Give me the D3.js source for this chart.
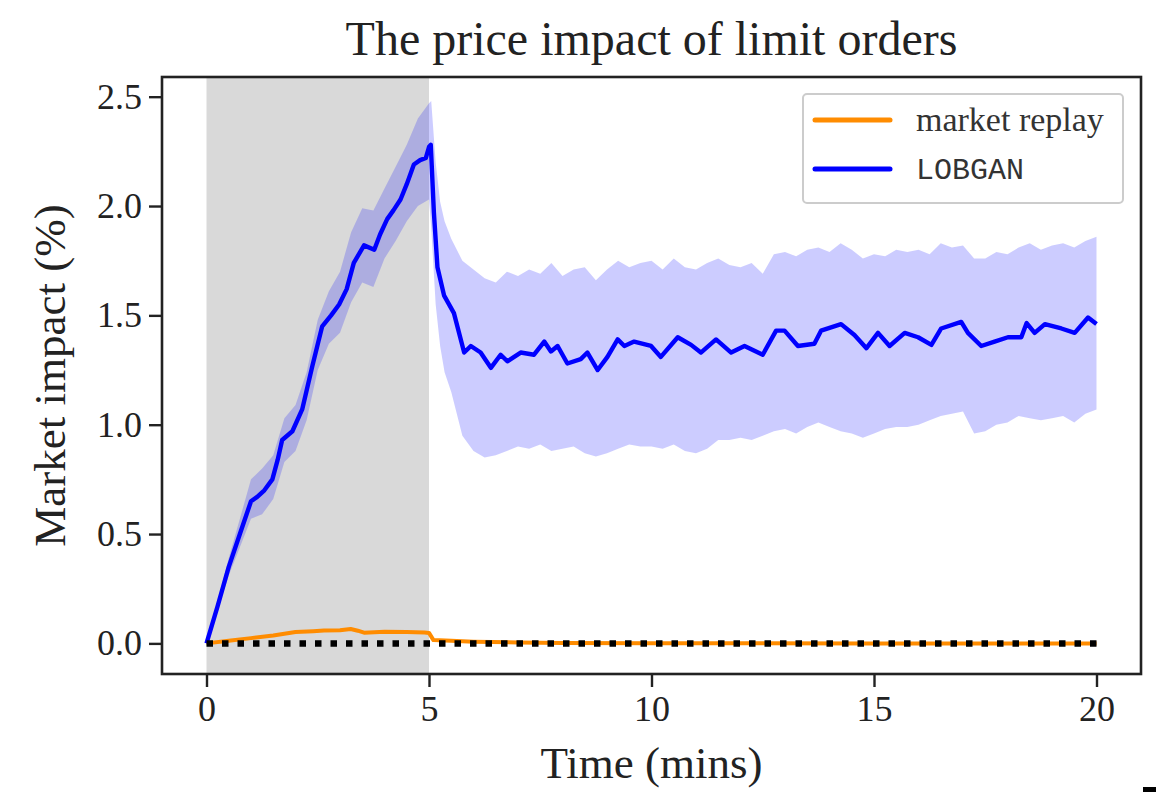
<!DOCTYPE html>
<html>
<head>
<meta charset="utf-8">
<script src="https://cdn.jsdelivr.net/npm/d3@7"></script>
<style>
  html, body { margin: 0; padding: 0; background: #fff; }
  svg { display: block; }
</style>
</head>
<body>
<svg id="chart" width="1156" height="796"></svg>
<script>
// ---- Data ----
const titleText = "The price impact of limit orders";
const xLabel = "Time (mins)";
const yLabel = "Market impact (%)";
const xTicks = [0, 5, 10, 15, 20];
const yTicks = [0.0, 0.5, 1.0, 1.5, 2.0, 2.5];
const shadeRange = [0, 5];

const lobTime = [0, 0.25, 0.5, 0.75, 1.0, 1.14, 1.3, 1.48, 1.6, 1.7, 1.93, 2.15, 2.38, 2.49, 2.6, 2.8, 2.98, 3.15, 3.31, 3.54, 3.77, 3.9, 4.06, 4.2, 4.36, 4.5, 4.66, 4.8, 4.93, 5.0, 5.04, 5.11, 5.19, 5.34, 5.56, 5.79, 5.94, 6.16, 6.39, 6.61, 6.76, 7.06, 7.36, 7.59, 7.74, 7.89, 8.11, 8.41, 8.56, 8.79, 9.01, 9.24, 9.39, 9.61, 9.99, 10.21, 10.59, 10.89, 11.11, 11.45, 11.79, 12.09, 12.5, 12.8, 12.99, 13.29, 13.66, 13.81, 14.26, 14.56, 14.83, 15.09, 15.35, 15.69, 15.99, 16.29, 16.51, 16.96, 17.11, 17.41, 17.71, 18.01, 18.31, 18.43, 18.61, 18.84, 19.21, 19.51, 19.81, 20.0];
const lobMean = [0, 0.17, 0.35, 0.50, 0.65, 0.67, 0.70, 0.75, 0.84, 0.93, 0.97, 1.07, 1.27, 1.36, 1.45, 1.50, 1.55, 1.62, 1.74, 1.82, 1.80, 1.87, 1.94, 1.98, 2.03, 2.10, 2.19, 2.21, 2.22, 2.27, 2.28, 1.97, 1.72, 1.59, 1.51, 1.33, 1.36, 1.33, 1.26, 1.32, 1.29, 1.33, 1.32, 1.38, 1.335, 1.36, 1.28, 1.30, 1.33, 1.25, 1.31, 1.39, 1.36, 1.38, 1.36, 1.31, 1.40, 1.365, 1.33, 1.39, 1.33, 1.36, 1.32, 1.43, 1.43, 1.36, 1.37, 1.43, 1.46, 1.41, 1.35, 1.42, 1.36, 1.42, 1.40, 1.365, 1.44, 1.47, 1.42, 1.36, 1.38, 1.40, 1.40, 1.465, 1.42, 1.46, 1.44, 1.42, 1.49, 1.46];

const bandTime = [0, 0.25, 0.5, 0.75, 1.0, 1.25, 1.5, 1.75, 2.0, 2.25, 2.5, 2.75, 3.0, 3.25, 3.5, 3.75, 4.0, 4.25, 4.5, 4.75, 5.0, 5.05, 5.15, 5.25, 5.35, 5.5, 5.75, 6.0, 6.25, 6.5, 6.75, 7.0, 7.25, 7.5, 7.75, 8.0, 8.25, 8.5, 8.75, 9.0, 9.25, 9.5, 9.75, 10.0, 10.25, 10.5, 10.75, 11.0, 11.25, 11.5, 11.75, 12.0, 12.25, 12.5, 12.75, 13.0, 13.25, 13.5, 13.75, 14.0, 14.25, 14.5, 14.75, 15.0, 15.25, 15.5, 15.75, 16.0, 16.25, 16.5, 16.75, 17.0, 17.25, 17.5, 17.75, 18.0, 18.25, 18.5, 18.75, 19.0, 19.25, 19.5, 19.75, 20.0];
const bandUpper = [0.0, 0.19, 0.39, 0.57, 0.75, 0.80, 0.86, 1.03, 1.09, 1.24, 1.48, 1.61, 1.70, 1.88, 1.99, 1.98, 2.08, 2.18, 2.28, 2.40, 2.47, 2.48, 2.20, 2.02, 1.93, 1.85, 1.75, 1.71, 1.67, 1.65, 1.70, 1.68, 1.71, 1.69, 1.74, 1.68, 1.71, 1.72, 1.66, 1.71, 1.75, 1.72, 1.74, 1.75, 1.71, 1.76, 1.72, 1.71, 1.74, 1.76, 1.73, 1.72, 1.74, 1.69, 1.78, 1.79, 1.77, 1.80, 1.81, 1.79, 1.83, 1.80, 1.76, 1.78, 1.77, 1.80, 1.79, 1.80, 1.78, 1.83, 1.81, 1.82, 1.76, 1.76, 1.79, 1.78, 1.81, 1.83, 1.80, 1.82, 1.83, 1.81, 1.84, 1.86];
const bandLower = [0.0, 0.15, 0.31, 0.44, 0.57, 0.59, 0.66, 0.83, 0.88, 1.02, 1.25, 1.37, 1.42, 1.56, 1.65, 1.63, 1.76, 1.84, 1.93, 2.00, 2.03, 1.90, 1.55, 1.36, 1.24, 1.15, 0.95, 0.88, 0.85, 0.86, 0.88, 0.90, 0.89, 0.91, 0.88, 0.89, 0.90, 0.87, 0.855, 0.87, 0.89, 0.91, 0.90, 0.90, 0.89, 0.91, 0.88, 0.87, 0.89, 0.93, 0.93, 0.94, 0.93, 0.95, 0.97, 0.98, 0.96, 0.99, 1.01, 0.99, 0.97, 0.96, 0.94, 0.96, 0.98, 0.99, 0.99, 1.00, 1.02, 1.04, 1.05, 1.06, 0.96, 0.97, 1.00, 1.01, 1.04, 1.03, 1.02, 1.03, 1.04, 1.01, 1.05, 1.07];

const replayTime = [0, 0.5, 1.0, 1.5, 2.0, 2.4, 2.64, 3.0, 3.24, 3.4, 3.54, 4.0, 4.5, 4.9, 5.0, 5.1, 5.5, 6.0, 7.0, 8.0, 10.0, 12.0, 15.0, 20.0];
const replayMean = [0, 0.012, 0.024, 0.036, 0.052, 0.056, 0.059, 0.060, 0.066, 0.058, 0.049, 0.053, 0.052, 0.050, 0.048, 0.015, 0.012, 0.008, 0.004, 0.002, 0.001, 0.001, 0.0, 0.0];

const zeroTime = [0, 20];
const zeroValue = [0, 0];

const legendLabels = ["market replay", "LOBGAN"];

// ---- Layout ----
const SERIF = "'Liberation Serif', 'Times New Roman', serif";
const MONO = "'Liberation Mono', 'DejaVu Sans Mono', monospace";
const svg = d3.select("#chart");
const L = 162, R = 1141, T = 77, B = 674;
const x = d3.scaleLinear().domain([-1, 21]).range([L, R]);
const y = d3.scaleLinear().domain([-0.14, 2.59]).range([B, T]);

svg.append("defs").append("clipPath").attr("id", "plotclip")
  .append("rect").attr("x", L).attr("y", T).attr("width", R - L).attr("height", B - T);
const gPlot = svg.append("g").attr("clip-path", "url(#plotclip)");

// shaded span
gPlot.append("rect")
  .attr("x", x(shadeRange[0])).attr("width", x(shadeRange[1]) - x(shadeRange[0]))
  .attr("y", T).attr("height", B - T)
  .attr("fill", "#808080").attr("fill-opacity", 0.3);

// LOBGAN band
const band = bandTime.map((t, i) => ({ t, u: bandUpper[i], l: bandLower[i] }));
gPlot.append("path").datum(band)
  .attr("d", d3.area().x(d => x(d.t)).y0(d => y(d.l)).y1(d => y(d.u)))
  .attr("fill", "#0000ff").attr("fill-opacity", 0.2).attr("stroke", "none");

// market replay line
const replay = replayTime.map((t, i) => ({ t, v: replayMean[i] }));
gPlot.append("path").datum(replay)
  .attr("d", d3.line().x(d => x(d.t)).y(d => y(d.v)))
  .attr("fill", "none").attr("stroke", "#ff8c00").attr("stroke-width", 4)
  .attr("stroke-linejoin", "round");

// LOBGAN line
const lob = lobTime.map((t, i) => ({ t, v: lobMean[i] }));
gPlot.append("path").datum(lob)
  .attr("d", d3.line().x(d => x(d.t)).y(d => y(d.v)))
  .attr("fill", "none").attr("stroke", "#0000ff").attr("stroke-width", 4.4)
  .attr("stroke-linejoin", "round");

// zero dotted line
const zero = zeroTime.map((t, i) => ({ t, v: zeroValue[i] }));
gPlot.append("path").datum(zero)
  .attr("d", d3.line().x(d => x(d.t)).y(d => y(d.v)))
  .attr("fill", "none").attr("stroke", "#000").attr("stroke-width", 6.5)
  .attr("stroke-dasharray", "6.5,9");

// axes
const xAxis = svg.append("g").attr("transform", `translate(0,${B})`)
  .call(d3.axisBottom(x).tickValues(xTicks).tickSize(13).tickPadding(8).tickFormat(d3.format("d")));
const yAxis = svg.append("g").attr("transform", `translate(${L},0)`)
  .call(d3.axisLeft(y).tickValues(yTicks).tickSize(13).tickPadding(7).tickFormat(d3.format(".1f")));
[xAxis, yAxis].forEach(g => {
  g.select(".domain").remove();
  g.selectAll(".tick line").attr("stroke", "#222").attr("stroke-width", 2.4);
  g.selectAll(".tick text").style("font-family", SERIF)
    .style("font-size", "36px").attr("fill", "#222");
});
xAxis.selectAll(".tick text").attr("dy", "0.71em");

// frame
svg.append("rect").attr("x", L).attr("y", T).attr("width", R - L).attr("height", B - T)
  .attr("fill", "none").attr("stroke", "#222").attr("stroke-width", 2.6);

// title & labels
svg.append("text").attr("x", (L + R) / 2).attr("y", 55).attr("text-anchor", "middle")
  .style("font-family", SERIF).style("font-size", "48px").attr("fill", "#222").text(titleText);
svg.append("text").attr("x", (L + R) / 2).attr("y", 778).attr("text-anchor", "middle")
  .style("font-family", SERIF).style("font-size", "45px").attr("fill", "#222").text(xLabel);
svg.append("text").attr("transform", `translate(65,${(T + B) / 2}) rotate(-90)`)
  .attr("text-anchor", "middle").style("font-family", SERIF).style("font-size", "45px")
  .attr("fill", "#222").text(yLabel);

// legend
const lg = svg.append("g");
lg.append("rect").attr("x", 803).attr("y", 94).attr("width", 320).attr("height", 109)
  .attr("rx", 4).attr("fill", "#fff").attr("fill-opacity", 0.8)
  .attr("stroke", "#cccccc").attr("stroke-width", 2);
const legendColors = ["#ff8c00", "#0000ff"];
legendLabels.forEach((lab, i) => {
  const cy = 120 + i * 49;
  lg.append("line").attr("x1", 815).attr("x2", 890).attr("y1", cy).attr("y2", cy)
    .attr("stroke", legendColors[i]).attr("stroke-width", 5).attr("stroke-linecap", "round");
  const t = lg.append("text").attr("x", 916).attr("y", cy).attr("dy", "0.33em")
    .attr("fill", "#333").text(lab);
  if (i === 1) {
    t.style("font-family", MONO).style("font-size", "30px");
  } else {
    t.style("font-family", SERIF).style("font-size", "34px");
  }
});

// small mark at lower-right corner of the reference image
svg.append("rect").attr("x", 1143).attr("y", 787).attr("width", 13).attr("height", 5).attr("fill", "#000");
</script>
</body>
</html>
